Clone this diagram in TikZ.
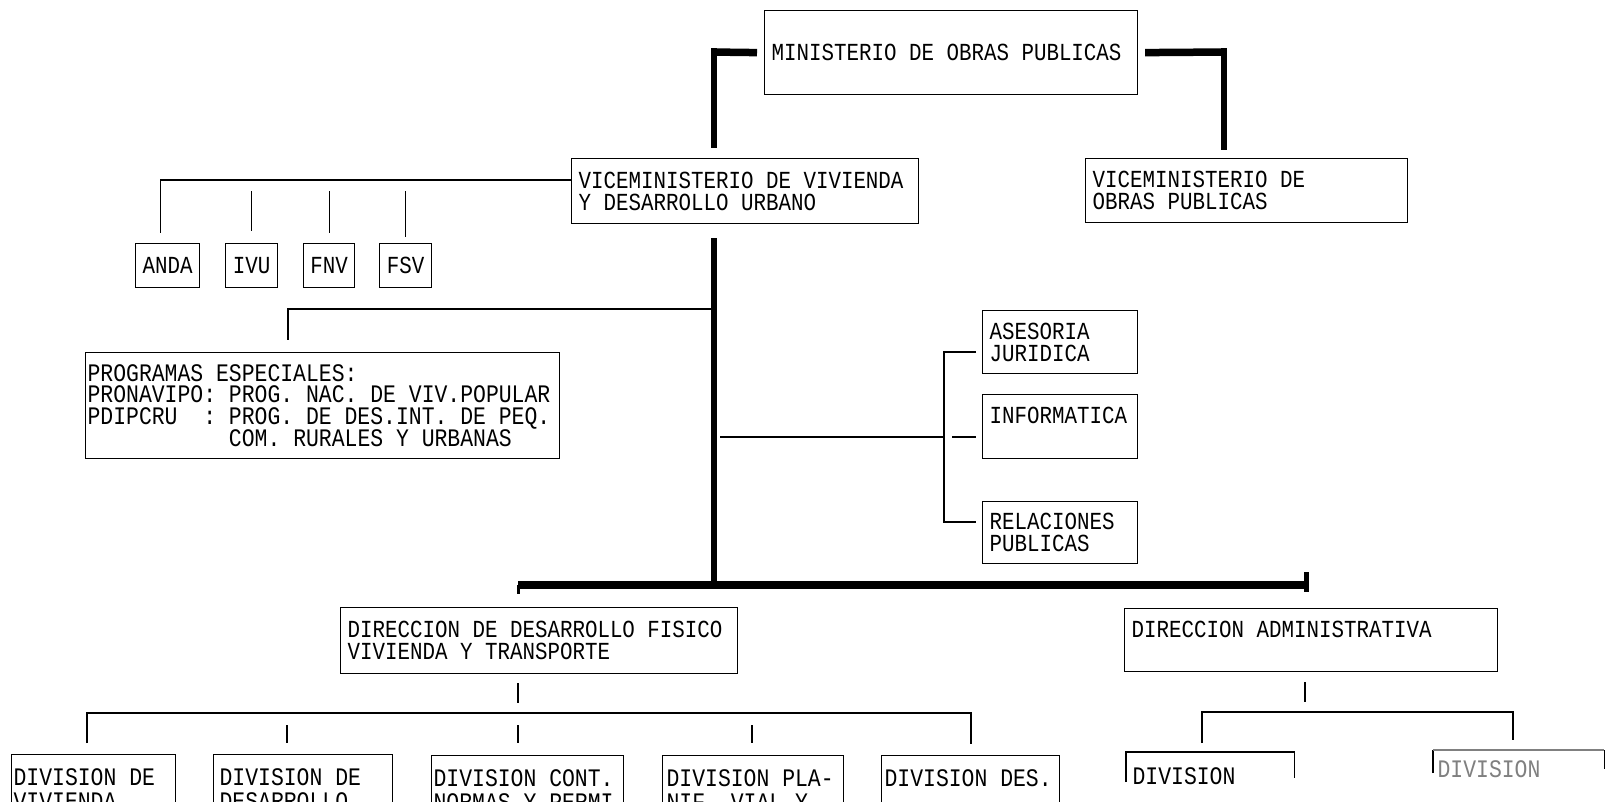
\documentclass[tikz,border=0pt]{standalone}
\usepackage{fontspec}
\newfontfamily\dm[FakeStretch=0.85]{Liberation Mono}
\newcommand\dmfont[2]{\dm\fontsize{#1}{#2}\selectfont}
\newcommand\monospaces{\spaceskip=\fontcharwd\font`\X\relax\xspaceskip=\spaceskip}
\usetikzlibrary{calc}
\tikzset{
  box/.style 2 args={draw, line width=1.2pt, anchor=north west, inner xsep=7pt, inner ysep=0pt,
    align=left, minimum width=#1, text width=#2, font=\dmfont{24.5pt}{22pt}},
  sbox/.style={draw, line width=1.2pt, anchor=north west, inner sep=0pt, minimum height=44pt,
    align=center, font=\dmfont{24.5pt}{22pt}},
  bbox/.style n args={3}{draw, line width=1.2pt, anchor=north west, inner ysep=14pt, inner xsep=#2,
    align=left, minimum width=#1, text width=#3, font=\dmfont{25.2pt}{24pt}},
  thn/.style={line width=1.2pt},
  thkv/.style={line width=5.5pt},
  thkh/.style={line width=7.5pt},
  every node/.style={execute at begin node=\monospaces},
}
\begin{document}
\begin{tikzpicture}[x=1pt,y=-1pt]
\useasboundingbox (0,0) rectangle (1605,801);
\clip (0,0) rectangle (1605,801);
\fill[white] (0,0) rectangle (1605,801);

% boxes
\node[box={373pt}{359pt}, minimum height=84pt] (mop) at (764,10) {MINISTERIO DE OBRAS PUBLICAS};
\node[box={347pt}{333pt}, minimum height=65pt] (vvu) at (571,158) {VICEMINISTERIO DE VIVIENDA\\Y DESARROLLO URBANO};
\node[box={322pt}{308pt}, minimum height=64pt] (vop) at (1085,158) {VICEMINISTERIO DE\\OBRAS PUBLICAS};
\node[sbox, minimum width=64pt] (anda) at (135,243) {ANDA};
\node[sbox, minimum width=52pt] (ivu) at (225,243) {IVU};
\node[sbox, minimum width=51pt] (fnv) at (303,243) {FNV};
\node[sbox, minimum width=52pt] (fsv) at (379,243) {FSV};
\node[box={474pt}{470pt}, inner xsep=2pt, minimum height=106pt, font=\dmfont{25.2pt}{21.5pt}] (prog) at (85,352)
  {PROGRAMAS ESPECIALES:\\PRONAVIPO: PROG. NAC. DE VIV.POPULAR\\PDIPCRU\phantom{XX}: PROG. DE DES.INT. DE PEQ.\\\phantom{XXXXXXXXXXX}COM. RURALES Y URBANAS};
\node[box={155pt}{141pt}, minimum height=63pt] (ase) at (982,310) {ASESORIA\\JURIDICA};
\node[box={155pt}{141pt}, minimum height=64pt] (inf) at (982,394) {INFORMATICA\\\mbox{}};
\node[box={155pt}{141pt}, minimum height=62pt] (rel) at (982,501) {RELACIONES\\PUBLICAS};
\node[box={397pt}{383pt}, minimum height=66pt] (ddf) at (340,607) {DIRECCION DE DESARROLLO FISICO\\VIVIENDA Y TRANSPORTE};
\node[box={373pt}{359pt}, minimum height=63pt] (dad) at (1124,608) {DIRECCION ADMINISTRATIVA\\\mbox{}};

\node[bbox={164pt}{2pt}{160pt}] (b1) at (11,754) {DIVISION DE\\VIVIENDA};
\node[bbox={179pt}{6pt}{167pt}] (b2) at (213,754) {DIVISION DE\\DESARROLLO};
\node[bbox={192pt}{2pt}{188pt}] (b3) at (431,755) {DIVISION CONT.\\NORMAS Y PERMI};
\node[bbox={181pt}{4pt}{173pt}] (b4) at (662,755) {DIVISION PLA-\\NIF. VIAL Y};
\node[bbox={178pt}{3pt}{172pt}] (b5) at (881,755) {DIVISION DES.\\\phantom{X}};
\node[bbox={167pt}{6pt}{155pt}, draw=none, inner ysep=15pt] (b6) at (1126,752) {DIVISION\\\phantom{X}};
\node[bbox={170pt}{4pt}{162pt}, draw=none, text=gray, inner ysep=10pt] (b7) at (1433,750) {DIVISION\\\phantom{X}};

% thick connectors
\coordinate (tl) at (714,52);
\coordinate (tr) at (1224,52);
\draw[thkh] ([xshift=-7pt]mop.west) -- ([xshift=-2.75pt]tl);
\draw[thkv] ([yshift=3.75pt]tl) -- ($(vvu.north west)+(143,-10)$);
\draw[thkh] ([xshift=7pt]mop.east) -- ([xshift=2.75pt]tr);
\draw[thkv] ([yshift=3.75pt]tr) -- ($(vop.north west)+(139,-8)$);

\coordinate (jm) at (714,585);
\coordinate (hl) at (518,585);
\coordinate (hr) at (1307,585);
\draw[thkv] ($(vvu.south west)+(143,14)$) -- (jm);
\draw[thkh] (hl) -- (hr);
\draw[line width=3pt] (hl) -- ++(0,9);
\draw[line width=5pt] ($(hr)+(-1,-13)$) -- ($(hr)+(-1,7)$);

% thin connectors
\draw[thn] ($(vvu.north west)+(0,22)$) -| ($(anda.north)+(-7,-10)$);
\draw[thn] ($(ivu.north)+(0,-52)$) -- ($(ivu.north)+(0,-12)$);
\draw[thn] ($(fnv.north)+(0,-52)$) -- ($(fnv.north)+(0,-10)$);
\draw[thn] ($(fsv.north)+(0,-52)$) -- ($(fsv.north)+(0,-6)$);

\coordinate (jp) at (714,309);
\draw[thn] (jp) -| ($(prog.north west)+(203,-12)$);

\coordinate (jr) at (720,437);
\draw[thn] (jr) -- ($(ase.north west)+(-38,127)$);
\draw[thn] ($(ase.north west)+(-6,42)$) -| ($(rel.north west)+(-38,21)$) -- ($(rel.north west)+(-6,21)$);
\draw[thn] ($(inf.north west)+(-30,43)$) -- ($(inf.north west)+(-6,43)$);

\draw[thn] ($(ddf.south west)+(178,9)$) -- ($(ddf.south west)+(178,29)$);
\draw[thn] ($(b1.north west)+(76,-11)$) |- ($(b5.north west)+(90,-42)$) -- ($(b5.north west)+(90,-11)$);
\draw[thn] ($(b2.north west)+(74,-29)$) -- ($(b2.north west)+(74,-11)$);
\draw[thn] ($(b3.north west)+(87,-30)$) -- ($(b3.north west)+(87,-12)$);
\draw[thn] ($(b4.north west)+(90,-30)$) -- ($(b4.north west)+(90,-12)$);

\draw[thn] ($(dad.south west)+(181,10)$) -- ($(dad.south west)+(181,30)$);
\draw[thn] ($(b6.north west)+(76,-9)$) |- ($(b7.north west)+(80,-38)$) -- ($(b7.north west)+(80,-10)$);
\draw[thn] ($(b6.north west)+(0,30)$) -- (b6.north west) -- (b6.north east) -- ($(b6.north east)+(0,26)$);
\draw[thn] ($(b7.north west)+(0,23)$) -- (b7.north west);
\draw[thn, gray] (b7.north west) -- (b7.north east);
\draw[thn] (b7.north east) -- ($(b7.north east)+(0,19)$);
\end{tikzpicture}
\end{document}
